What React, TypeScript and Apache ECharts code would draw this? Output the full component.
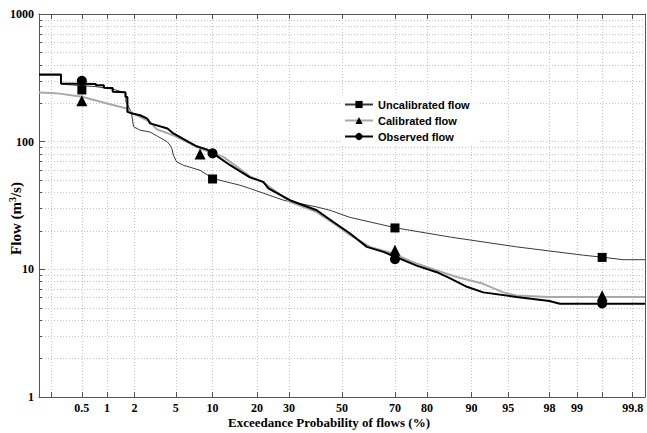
import { useEffect, useRef } from "react";
import * as echarts from "echarts";

// Flow duration curves: exceedance probability (%) and flow (m3/s)
const uncalibratedProb = [0.135, 0.27, 0.27, 0.74, 1.16, 1.45, 1.62, 1.62, 1.85, 1.95, 2.28, 2.87, 4.16, 4.43, 4.6, 4.75, 5.08, 5.81, 8.0, 10.1, 15.6, 18.1, 28.1, 40.1, 45.3, 53.2, 70.4, 85.8, 95.8, 99.16, 99.53, 99.73, 99.865];
const uncalibratedFlow = [332, 332, 282, 270, 258, 246, 240, 205, 171, 131, 123, 119, 100, 94, 88.5, 78.4, 69.5, 65.4, 59.7, 51.4, 45.6, 43.0, 34.8, 30.8, 29.0, 25.5, 21.1, 17.9, 15.0, 12.9, 12.4, 11.9, 11.9];

const calibratedProb = [0.135, 0.23, 0.5, 1.0, 1.65, 1.95, 2.87, 3.33, 4.75, 8.0, 12.0, 13.4, 18.1, 21.8, 30.3, 40.1, 47.9, 53.2, 60.9, 69.4, 77.0, 82.6, 87.2, 91.9, 94.5, 95.8, 98.0, 99.865];
const calibratedFlow = [243, 240, 225, 199, 182, 166, 143, 125, 112, 88.5, 76, 69.5, 53.5, 48, 33.8, 28.1, 22.1, 18.5, 15.0, 13.3, 11.1, 9.8, 8.7, 7.7, 6.6, 6.25, 6.07, 6.07];

const observedProb = [0.135, 0.27, 0.27, 0.74, 0.74, 0.92, 0.92, 1.16, 1.16, 1.6, 1.6, 1.68, 1.68, 1.89, 2.28, 2.67, 2.75, 2.87, 4.2, 4.75, 7.5, 9.0, 10.1, 11.0, 13.4, 18.1, 21.8, 23.3, 30.3, 40.1, 46.6, 53.2, 59.7, 65.9, 70.4, 77.0, 82.6, 85.8, 89.2, 91.9, 95.8, 98.0, 98.45, 99.865];
const observedFlow = [336, 336, 286, 283, 277, 277, 264, 263, 246, 244, 225, 224, 171, 166, 161, 152, 148, 139, 127, 116, 92, 87, 81.7, 76, 65.4, 52.5, 48.4, 43.0, 34.8, 29.0, 23.5, 19.1, 15.0, 13.7, 12.5, 10.7, 9.5, 8.5, 7.3, 6.6, 6.07, 5.64, 5.38, 5.38];

// Marker points on each curve
const uncalibratedMarkProb = [0.5, 10, 70, 99.5];
const uncalibratedMarkFlow = [254, 51, 21.1, 12.4];
const calibratedMarkProb = [0.5, 8, 70, 99.5];
const calibratedMarkFlow = [209, 80, 14.1, 6.2];
const observedMarkProb = [0.5, 10, 70, 99.5];
const observedMarkFlow = [300, 81, 12.0, 5.4];

// Probability axis ticks and labels
const probLabels = [0.5, 1, 2, 5, 10, 20, 30, 50, 70, 80, 90, 95, 98, 99, 99.8];
const probTicks = [0.2, 0.5, 1, 2, 5, 10, 20, 30, 50, 70, 80, 90, 95, 98, 99, 99.5, 99.8];
// Minor flow gridlines between decades
const flowMinor = [2, 3, 4, 5, 6, 7, 8, 9, 20, 30, 40, 50, 60, 70, 80, 90, 200, 300, 400, 500, 600, 700, 800, 900];

// Inverse standard normal CDF (Acklam)
function probit(p: number): number {
  const a = [-3.969683028665376e1, 2.209460984245205e2, -2.759285104469687e2, 1.38357751867269e2, -3.066479806614716e1, 2.506628277459239];
  const b = [-5.447609879822406e1, 1.615858368580409e2, -1.556989798598866e2, 6.680131188771972e1, -1.328068155288572e1];
  const c = [-7.784894002430293e-3, -3.223964580411365e-1, -2.400758277161838, -2.549732539343734, 4.374664141464968, 2.938163982698783];
  const d = [7.784695709041462e-3, 3.224671290700398e-1, 2.445134137142996, 3.754408661907416];
  const pl = 0.02425;
  if (p < pl) {
    const q = Math.sqrt(-2 * Math.log(p));
    return (((((c[0] * q + c[1]) * q + c[2]) * q + c[3]) * q + c[4]) * q + c[5]) / ((((d[0] * q + d[1]) * q + d[2]) * q + d[3]) * q + 1);
  }
  if (p <= 1 - pl) {
    const q = p - 0.5;
    const r = q * q;
    return ((((((a[0] * r + a[1]) * r + a[2]) * r + a[3]) * r + a[4]) * r + a[5]) * q) / (((((b[0] * r + b[1]) * r + b[2]) * r + b[3]) * r + b[4]) * r + 1);
  }
  const q = Math.sqrt(-2 * Math.log(1 - p));
  return -(((((c[0] * q + c[1]) * q + c[2]) * q + c[3]) * q + c[4]) * q + c[5]) / ((((d[0] * q + d[1]) * q + d[2]) * q + d[3]) * q + 1);
}

const z = (pct: number) => probit(pct / 100);
const toPoints = (prob: number[], flow: number[]) => prob.map((p, i) => [z(p), flow[i]]);

const SERIF = "'Liberation Serif', 'Times New Roman', serif";
const SANS = "'Liberation Sans', Arial, sans-serif";
const GRID_COLOR = "#c4c4c4";
const AXIS_COLOR = "#555";

export default function App() {
  const ref = useRef<HTMLDivElement>(null);

  useEffect(() => {
    document.body.style.margin = "0";
    if (!ref.current) return;
    const chart = echarts.init(ref.current, null, { renderer: "svg" });

    const labelZ = probLabels.map(z);
    const tickZ = probTicks.map(z);
    const fmtProb = (v: number) => {
      const i = labelZ.findIndex((t) => Math.abs(t - v) < 1e-6);
      return i >= 0 ? String(probLabels[i]) : "";
    };

    const dotted = { color: GRID_COLOR, width: 1, type: [1, 2] as number[] };
    const frame = { show: true, onZero: false, lineStyle: { color: AXIS_COLOR, width: 1 } };

    const lineSeries = (name: string, prob: number[], flow: number[], color: string, width: number, symbol: string, z2: number) => ({
      name,
      type: "line",
      xAxisIndex: 0,
      yAxisIndex: 0,
      data: toPoints(prob, flow),
      showSymbol: false,
      symbol,
      symbolSize: 9,
      lineStyle: { color, width },
      itemStyle: { color: "#000", opacity: 1 },
      z: z2,
      silent: true,
    });

    const markSeries = (name: string, prob: number[], flow: number[], symbol: string, size: number) => ({
      name,
      type: "scatter",
      xAxisIndex: 0,
      yAxisIndex: 0,
      data: toPoints(prob, flow),
      symbol,
      symbolSize: size,
      itemStyle: { color: "#000", opacity: 1 },
      z: 10,
      silent: true,
    });

    chart.setOption({
      animation: false,
      backgroundColor: "#fff",
      grid: { left: 39, right: 2, top: 14, bottom: 36, containLabel: false, outerBoundsMode: "none" },
      legend: {
        data: ["Uncalibrated flow", "Calibrated flow", "Observed flow"],
        orient: "vertical",
        left: 340,
        top: 95,
        backgroundColor: "#fff",
        padding: [4, 8, 4, 4],
        itemWidth: 28,
        itemHeight: 9,
        itemGap: 5,
        selectedMode: false,
        textStyle: { fontFamily: SANS, fontWeight: "bold", fontSize: 11, color: "#000", lineHeight: 11 },
      },
      xAxis: [
        {
          type: "value",
          position: "bottom",
          min: -3,
          max: 3,
          name: "Exceedance Probability of flows (%)",
          nameLocation: "middle",
          nameGap: 19,
          nameMoveOverlap: false,
          nameTextStyle: { fontFamily: SERIF, fontWeight: "bold", fontSize: 13, color: "#000", padding: [0, 26, 0, 0] },
          axisLine: frame,
          axisTick: { show: true, inside: true, length: 5, customValues: tickZ, lineStyle: { color: AXIS_COLOR } },
          axisLabel: { customValues: labelZ, formatter: fmtProb, margin: 5, fontFamily: SERIF, fontWeight: "bold", fontSize: 12, color: "#000" },
          splitLine: { show: true, lineStyle: dotted },
        },
        {
          type: "value",
          position: "top",
          min: -3,
          max: 3,
          axisLine: frame,
          axisTick: { show: true, inside: true, length: 5, customValues: tickZ, lineStyle: { color: AXIS_COLOR } },
          axisLabel: { show: false },
          splitLine: { show: false },
        },
      ],
      yAxis: [
        {
          type: "log",
          logBase: 10,
          min: 1,
          max: 1000,
          position: "left",
          name: "Flow (m{sup|3}/s)",
          nameLocation: "middle",
          nameGap: 15,
          nameMoveOverlap: false,
          nameTextStyle: {
            fontFamily: SERIF,
            fontWeight: "bold",
            fontSize: 15,
            color: "#000",
            padding: [0, 26, 0, 0],
            rich: { sup: { fontFamily: SERIF, fontWeight: "bold", fontSize: 10, color: "#000", verticalAlign: "top", padding: [0, 0, 7, 0] } },
          },
          axisLine: frame,
          axisTick: { show: true, inside: true, length: 6, lineStyle: { color: AXIS_COLOR } },
          axisLabel: { margin: 5, formatter: (v: number) => String(v), fontFamily: SERIF, fontWeight: "bold", fontSize: 12, color: "#000" },
          splitLine: { show: true, lineStyle: dotted },
        },
        {
          // Gridlines and short ticks for the 2..9 multiples of each decade
          type: "value",
          position: "left",
          min: 0,
          max: 3,
          axisLine: { show: false, onZero: false },
          axisTick: { show: true, inside: true, length: 3, customValues: flowMinor.map((v) => Math.log10(v)), lineStyle: { color: AXIS_COLOR } },
          axisLabel: { show: false },
          splitLine: { show: true, lineStyle: dotted },
        },
        {
          type: "log",
          logBase: 10,
          min: 1,
          max: 1000,
          position: "right",
          axisLine: frame,
          axisTick: { show: false },
          axisLabel: { show: false },
          splitLine: { show: false },
        },
      ],
      series: [
        lineSeries("Uncalibrated flow", uncalibratedProb, uncalibratedFlow, "#3a3a3a", 1, "rect", 3),
        lineSeries("Calibrated flow", calibratedProb, calibratedFlow, "#a9a9a9", 2, "triangle", 4),
        lineSeries("Observed flow", observedProb, observedFlow, "#000", 2, "circle", 5),
        markSeries("Uncalibrated flow", uncalibratedMarkProb, uncalibratedMarkFlow, "rect", 9),
        markSeries("Calibrated flow", calibratedMarkProb, calibratedMarkFlow, "triangle", 11),
        markSeries("Observed flow", observedMarkProb, observedMarkFlow, "circle", 10),
      ],
    });

    return () => chart.dispose();
  }, []);

  return <div ref={ref} style={{ width: 647, height: 433 }} />;
}
